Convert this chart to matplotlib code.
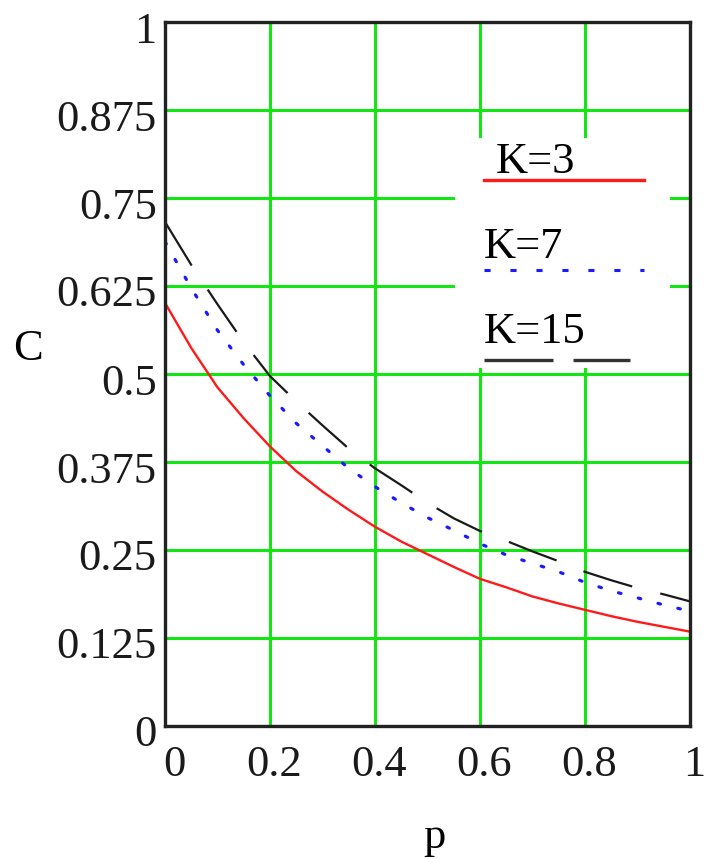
import matplotlib
matplotlib.use("Agg")
import matplotlib.pyplot as plt
from matplotlib.transforms import ScaledTranslation
from matplotlib.patches import Rectangle
from matplotlib.lines import Line2D

# ---- data ----
p = [0.00, 0.05, 0.10, 0.15, 0.20, 0.25, 0.30, 0.35, 0.40, 0.45, 0.50,
     0.55, 0.60, 0.65, 0.70, 0.75, 0.80, 0.85, 0.90, 0.95, 1.00]
c_k3 = [0.601, 0.537, 0.481, 0.437, 0.397, 0.362, 0.333, 0.307, 0.283, 0.262, 0.244,
        0.226, 0.209, 0.197, 0.184, 0.174, 0.165, 0.156, 0.148, 0.141, 0.134]
c_k7 = [0.688, 0.622, 0.562, 0.513, 0.469, 0.430, 0.398, 0.366, 0.340, 0.317, 0.296,
        0.278, 0.259, 0.243, 0.231, 0.219, 0.204, 0.192, 0.182, 0.172, 0.163]
c_k15 = [0.716, 0.655, 0.599, 0.545, 0.497, 0.461, 0.427, 0.394, 0.366, 0.342, 0.317,
         0.295, 0.277, 0.263, 0.248, 0.234, 0.219, 0.207, 0.196, 0.187, 0.177]
labels = ["K=3", "K=7", "K=15"]
xticks = [0, 0.2, 0.4, 0.6, 0.8, 1]
xticklabels = ["0", "0.2", "0.4", "0.6", "0.8", "1"]
yticks = [0, 0.125, 0.25, 0.375, 0.5, 0.625, 0.75, 0.875, 1]
yticklabels = ["0", "0.125", "0.25", "0.375", "0.5", "0.625", "0.75", "0.875", "1"]

W, H = 707, 859
DPI = 100
FONT = "Liberation Serif"
FS = 32

fig = plt.figure(figsize=(W / DPI, H / DPI), dpi=DPI)
fig.patch.set_facecolor("white")
ax = fig.add_axes([165 / W, (H - 726) / H, 525 / W, 704 / H])
ax.set_xlim(0, 1)
ax.set_ylim(0, 1)

green = "#14e614"
ax.set_xticks(xticks)
ax.set_yticks(yticks)
ax.set_xticklabels(xticklabels, fontfamily=FONT, fontsize=FS)
ax.set_yticklabels(yticklabels, fontfamily=FONT, fontsize=FS)
ax.tick_params(axis="both", length=0, colors="#1a1a1a")
ax.tick_params(axis="y", pad=6)
ax.tick_params(axis="x", pad=14)
ax.grid(True, color=green, linewidth=2.2)
ax.set_axisbelow(True)
for s in ax.spines.values():
    s.set_linewidth(2.4)
    s.set_color("#222222")
    s.set_zorder(5)

# small label offsets like the reference
for lab in ax.get_yticklabels():
    lab.set_transform(lab.get_transform() + ScaledTranslation(0, -0.05, fig.dpi_scale_trans))
for i, lab in enumerate(ax.get_xticklabels()):
    dx = 0.09 if i == 0 else 0.045
    lab.set_transform(lab.get_transform() + ScaledTranslation(dx, 0, fig.dpi_scale_trans))

ax.plot(p, c_k3, color="#ff1a1a", linewidth=1.7, zorder=3)
ax.plot(p, c_k7, color="#1a1aff", linewidth=2.3, linestyle=(0, (0.8, 5.6)),
        dash_capstyle="round", zorder=3)
ax.plot(p, c_k15, color="#1a1a1a", linewidth=1.6, linestyle=(0, (23, 13)), zorder=3)

# legend (MathCad style: label above line sample) on white box
tr = ax.transAxes
ax.add_patch(Rectangle((0.552, 0.509), 0.41, 0.326, transform=tr,
                       facecolor="white", edgecolor="none", zorder=2.5))
ax.text(0.630, 0.7855, labels[0], transform=tr, fontfamily=FONT, fontsize=FS,
        ha="left", va="baseline", zorder=4)
ax.add_line(Line2D([0.608, 0.912], [0.776, 0.776], transform=tr, color="#ff1a1a",
                   linewidth=2.4, zorder=4))
ax.text(0.608, 0.665, labels[1], transform=tr, fontfamily=FONT, fontsize=FS,
        ha="left", va="baseline", zorder=4)
ax.add_line(Line2D([0.608, 0.912], [0.648, 0.648], transform=tr, color="#1a1aff",
                   linewidth=2.2, linestyle=(0, (2, 6.5)), dash_capstyle="butt", zorder=4))
ax.text(0.608, 0.544, labels[2], transform=tr, fontfamily=FONT, fontsize=FS,
        ha="left", va="baseline", zorder=4)
ax.add_line(Line2D([0.608, 0.886], [0.520, 0.520], transform=tr, color="#333333",
                   linewidth=2.4, linestyle=(0, (20.7, 6)), zorder=4))

fig.text(28 / W, 1 - 360 / H, "C", fontfamily=FONT, fontsize=FS, ha="center", va="baseline")
fig.text(434 / W, 1 - 848 / H, "p", fontfamily=FONT, fontsize=FS, ha="center", va="baseline")

fig.savefig("out.png", dpi=DPI, facecolor="white")
